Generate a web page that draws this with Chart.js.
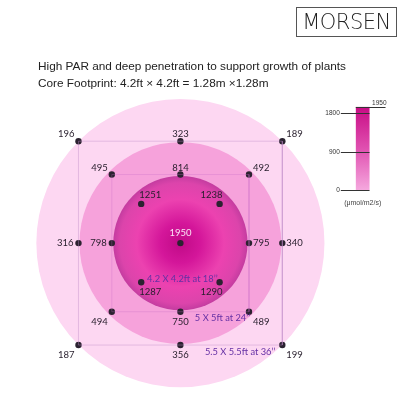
<!DOCTYPE html>
<html>
<head>
<meta charset="utf-8">
<script src="https://cdn.jsdelivr.net/npm/chart.js@4"></script>
<style>
  body { margin: 0; background: #fff; }
  #wrap { position: relative; width: 400px; height: 400px; overflow: hidden; }
  canvas { position: absolute; left: 0; top: 0; }
  .logo {
    position: absolute; left: 296px; top: 7px; width: 99px; height: 28px;
    border: 1px solid #555; font: 200 21px "DejaVu Sans", sans-serif; color: #222;
    text-align: center; line-height: 28px; letter-spacing: -0.5px;
  }
  .title {
    position: absolute; left: 38px; font: 11.8px "Liberation Sans", Arial, sans-serif;
    color: #222; white-space: nowrap;
  }
</style>
</head>
<body>
<div id="wrap">
  <canvas id="chart" width="400" height="400"></canvas>
  <div class="logo">MORSEN</div>
  <div class="title" style="top:59px">High PAR and deep penetration to support growth of plants</div>
  <div class="title" style="top:76px">Core Footprint: 4.2ft × 4.2ft = 1.28m ×1.28m</div>
</div>
<script>
// measuring grid, clockwise from top-left
const directions = [[-1, 1], [0, 1], [1, 1], [1, 0], [1, -1], [0, -1], [-1, -1], [-1, 0]];
const outerValues = [196, 323, 189, 340, 199, 356, 187, 316];
const middleValues = [495, 814, 492, 795, 489, 750, 494, 798];
const innerDirections = [[-1, 1], [1, 1], [1, -1], [-1, -1]];
const innerValues = [1251, 1238, 1290, 1287];
const centerValue = 1950;
const squareHalf = { inner: 40, middle: 70, outer: 104 };
const circleRadius = [147, 103, 68.5];
const footprintLabels = ["4.2 X 4.2ft at 18’’", "5 X 5ft at 24’’", "5.5 X 5.5ft at 36’’"];
const colorbarTicks = [0, 900, 1800, 1950];
const colorbarUnit = '(μmol/m2/s)';

function ringPoints(dirs, half, values, ring) {
  return dirs.map((d, i) => ({ x: d[0] * half, y: d[1] * half, v: values[i], ring: ring }));
}

const measurePoints = [
  ...ringPoints(directions, squareHalf.outer, outerValues, 'outer'),
  ...ringPoints(directions, squareHalf.middle, middleValues, 'middle'),
  ...ringPoints(innerDirections, squareHalf.inner, innerValues, 'inner'),
  { x: 0, y: 0, v: centerValue, ring: 'center' }
];

function squareOutline(half) {
  return [[-1, 1], [1, 1], [1, -1], [-1, -1], [-1, 1]].map(d => ({ x: d[0] * half, y: d[1] * half }));
}

const circlesPlugin = {
  id: 'circles',
  beforeDatasetsDraw(chart) {
    const { ctx, scales: { x, y } } = chart;
    const cx = x.getPixelForValue(0), cy = y.getPixelForValue(0);
    const fills = ['#fdd7f2', '#f6a2db', null];
    circleRadius.forEach((rad, i) => {
      const r = x.getPixelForValue(rad) - cx;
      ctx.save();
      ctx.beginPath();
      ctx.arc(cx, cy, r, 0, Math.PI * 2);
      if (fills[i]) {
        ctx.fillStyle = fills[i];
      } else {
        const g = ctx.createRadialGradient(cx, cy, 0, cx, cy, r);
        g.addColorStop(0, '#c00a87');
        g.addColorStop(0.3, '#d4169a');
        g.addColorStop(0.65, '#ec42b0');
        g.addColorStop(0.9, '#dc44ab');
        g.addColorStop(1, '#c43ca0');
        ctx.fillStyle = g;
      }
      ctx.fill();
      ctx.restore();
    });
  }
};

const labelsPlugin = {
  id: 'pointLabels',
  afterDatasetsDraw(chart) {
    const { ctx, scales: { x, y } } = chart;
    ctx.save();
    ctx.textBaseline = 'middle';
    measurePoints.forEach(p => {
      const px = x.getPixelForValue(p.x), py = y.getPixelForValue(p.y);
      let dx = 0, dy = 0, align = 'center';
      ctx.font = '9.5px Lato, sans-serif';
      ctx.fillStyle = '#261d2b';
      if (p.ring === 'center') {
        dy = -10;
        ctx.fillStyle = '#fbe3f5';
      } else if (p.ring === 'inner') {
        align = p.x < 0 ? 'left' : 'right';
        dx = p.x < 0 ? -2 : 3;
        dy = p.y > 0 ? -9 : 10;
      } else if (p.x !== 0 && p.y !== 0) {
        align = p.x < 0 ? 'right' : 'left';
        dx = p.x < 0 ? -4 : 4;
        dy = p.y > 0 ? -7 : 10;
      } else if (p.x === 0) {
        dy = p.y > 0 ? -7 : 10;
      } else {
        align = p.x < 0 ? 'right' : 'left';
        dx = p.x < 0 ? -5 : 4;
      }
      ctx.textAlign = align;
      ctx.fillText(String(p.v), px + dx, py + dy);
    });
    // footprint labels
    const spots = [[2, -37], [43, -76], [61, -111]];
    ctx.font = '9.3px Lato, sans-serif';
    ctx.fillStyle = '#6530a4';
    ctx.textAlign = 'center';
    footprintLabels.forEach((t, i) => {
      ctx.fillText(t, x.getPixelForValue(spots[i][0]), y.getPixelForValue(spots[i][1]));
    });
    ctx.restore();
  }
};

const colorbarPlugin = {
  id: 'colorbar',
  afterDraw(chart) {
    const { ctx, scales: { x, cb } } = chart;
    const left = x.getPixelForValue(179), right = x.getPixelForValue(193);
    const top = cb.getPixelForValue(colorbarTicks[colorbarTicks.length - 1]);
    const bottom = cb.getPixelForValue(0);
    ctx.save();
    const g = ctx.createLinearGradient(0, top, 0, bottom);
    g.addColorStop(0, '#c80c85');
    g.addColorStop(0.5, '#e050b0');
    g.addColorStop(1, '#f5a8de');
    ctx.fillStyle = g;
    ctx.fillRect(left, top, right - left, bottom - top);
    ctx.strokeStyle = '#333';
    ctx.lineWidth = 1;
    ctx.font = '6.5px "Liberation Sans", Arial, sans-serif';
    ctx.fillStyle = '#333';
    colorbarTicks.forEach((t, i) => {
      const py = Math.round(cb.getPixelForValue(t)) + 0.5;
      ctx.beginPath();
      if (i === colorbarTicks.length - 1) {
        ctx.moveTo(left, py);
        ctx.lineTo(right + 16, py);
        ctx.stroke();
        ctx.textAlign = 'right';
        ctx.textBaseline = 'bottom';
        ctx.fillText(String(t), right + 17, py - 1);
      } else {
        ctx.moveTo(left - 15, py);
        ctx.lineTo(right, py);
        ctx.stroke();
        ctx.textAlign = 'right';
        ctx.textBaseline = 'middle';
        ctx.fillText(String(t), left - 16, py);
      }
    });
    ctx.font = '7px "Liberation Sans", Arial, sans-serif';
    ctx.textAlign = 'center';
    ctx.textBaseline = 'middle';
    ctx.fillStyle = '#444';
    ctx.fillText(colorbarUnit, (left + right) / 2, bottom + 13);
    ctx.restore();
  }
};

new Chart(document.getElementById('chart'), {
  type: 'scatter',
  data: {
    datasets: [
      {
        data: squareOutline(squareHalf.outer),
        showLine: true,
        borderColor: 'rgba(190,140,200,0.4)',
        borderWidth: 1,
        pointRadius: 0
      },
      {
        data: squareOutline(squareHalf.middle),
        showLine: true,
        borderColor: 'rgba(200,110,200,0.3)',
        borderWidth: 1,
        pointRadius: 0
      },
      {
        data: measurePoints,
        pointRadius: 3.2,
        pointBackgroundColor: '#2b2230',
        pointBorderWidth: 0
      }
    ]
  },
  options: {
    responsive: false,
    animation: false,
    layout: { padding: 0 },
    plugins: { legend: { display: false }, tooltip: { enabled: false } },
    scales: {
      x: { type: 'linear', display: false, min: -180, max: 220 },
      y: { type: 'linear', display: false, min: -156, max: 244 },
      cb: { type: 'linear', axis: 'y', position: 'right', display: false, min: -4817.6, max: 4358.8 }
    }
  },
  plugins: [circlesPlugin, labelsPlugin, colorbarPlugin]
});
</script>
</body>
</html>
